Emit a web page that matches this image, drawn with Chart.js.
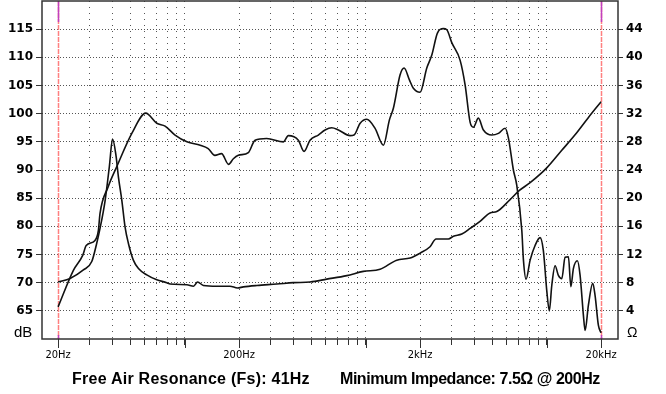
<!DOCTYPE html>
<html>
<head>
<meta charset="utf-8">
<script src="https://cdn.jsdelivr.net/npm/chart.js@4.4.1/dist/chart.umd.min.js"></script>
<style>
  html, body { margin: 0; padding: 0; background: #fff; }
  #wrap { position: relative; width: 666px; height: 394px; }
  .lbl { position: absolute; font-family: "Liberation Sans", Arial, sans-serif; color: #000; line-height: 1; white-space: nowrap; }
  .foot { font-weight: bold; font-size: 16px; top: 371px; }
</style>
</head>
<body>
<div id="wrap">
  <canvas id="chart" width="666" height="394"></canvas>
  <div class="lbl" style="left:14px; top:324px; font-size:15px;">dB</div>
  <div class="lbl" style="left:627px; top:325px; font-size:14px;">Ω</div>
  <div class="lbl foot" style="left:72px; letter-spacing:0.25px;">Free Air Resonance (Fs): 41Hz</div>
  <div class="lbl foot" style="left:340px; letter-spacing:-0.45px;">Minimum Impedance: 7.5Ω @ 200Hz</div>
</div>
<script>
// frequency response (dB, left axis)
const splFreq = [20, 24.3, 27.4, 28.6, 32, 33.4, 34.1, 37.8, 42.2, 51.1,
  61, 70.2, 78, 88.6, 103, 122, 135, 147, 160, 175,
  186, 198, 225, 245, 284, 352, 374, 425, 457, 493,
  548, 597, 650, 708, 821, 863, 933, 1015, 1128, 1254,
  1354, 1425, 1551, 1632, 1746, 1836, 2000, 2178, 2322, 2493,
  2690, 2810, 2993, 3326, 3546, 3778, 3940, 4198, 4476, 4980,
  5418, 5900, 6150, 6554, 6840, 7294, 7448, 7700, 8110, 8636,
  9200, 9596, 10020, 10356, 10680, 11140, 11614, 12132, 12652, 13198,
  13616, 14060, 14792, 15312, 15972, 16320, 17020, 17990, 18530, 19330, 20000];
const splDb = [65.7, 72.2, 74.9, 76.6, 77.5, 79.3, 82.3, 87.0, 90.6, 96.5,
  100.1, 98.3, 97.8, 96.2, 95.0, 94.4, 93.8, 92.6, 92.9, 91.0,
  92.0, 92.6, 93.1, 95.3, 95.6, 95.0, 96.1, 95.3, 93.3, 95.3,
  96.2, 97.1, 97.5, 97.1, 96.1, 96.2, 98.3, 99.0, 97.4, 94.4,
  98.9, 101.0, 106.9, 108.1, 106.0, 104.5, 103.8, 108.1, 110.4, 114.3,
  115.1, 114.9, 112.6, 109.5, 105.1, 98.5, 97.6, 99.2, 97.1, 96.2,
  96.5, 97.4, 95.7, 90.0, 87.3, 79.3, 74.0, 70.6, 74.0, 76.6,
  78.0, 75.7, 68.6, 65.0, 69.5, 73.0, 71.3, 70.7, 74.5, 74.6,
  69.3, 72.5, 73.9, 71.3, 64.2, 61.5, 66.0, 69.9, 67.7, 62.4, 61.1];

// impedance (ohm, right axis)
const impFreq = [20, 23.3, 27.6, 30.7, 32.7, 34.1, 36.4, 38.4, 40, 41.8,
  43.1, 45.0, 46.9, 48.9, 52.1, 55.6, 61.8, 70.2, 79.7, 83.2,
  103, 112, 118, 127, 151, 178, 196, 211, 251, 323,
  399, 493, 610, 787, 972, 1202, 1486, 1762, 2000, 2270,
  2450, 2866, 3056, 3400, 3778, 4288, 4872, 5306, 6284, 7076,
  8110, 10020, 12132, 14360, 16950, 20000];
const impOhm = [8.1, 8.6, 9.8, 11.0, 13.6, 15.7, 19.7, 24.5, 28.4, 26.0,
  23.0, 19.7, 15.9, 13.6, 11.2, 10.0, 9.1, 8.4, 8.0, 7.8,
  7.7, 7.5, 8.1, 7.6, 7.5, 7.5, 7.25, 7.4, 7.6, 7.8,
  8.0, 8.1, 8.5, 9.0, 9.6, 9.9, 11.2, 11.5, 12.2, 13.1,
  14.2, 14.2, 14.6, 14.9, 15.7, 16.7, 17.9, 18.1, 19.8, 21.1,
  22.2, 24.3, 26.8, 29.0, 31.4, 33.7];

// x axis grid / labels
const gridFreqs = [20, 30, 40, 50, 60, 70, 80, 90,
  100, 200, 300, 400, 500, 600, 700, 800, 900,
  1000, 2000, 3000, 4000, 5000, 6000, 7000, 8000, 9000,
  10000, 20000];
const majorFreqs = [20, 100, 200, 1000, 2000, 10000, 20000];
const labelFreqs = [20, 200, 2000, 20000];
const labelText = ["20Hz", "200Hz", "2kHz", "20kHz"];
const markerFreqs = [20, 20000];

const toPoints = (xs, ys) => xs.map((x, i) => ({ x: x, y: ys[i] }));

// red band-limit lines at 20Hz / 20kHz
const markerLines = {
  id: "markerLines",
  beforeDatasetsDraw(chart) {
    const ctx = chart.ctx, area = chart.chartArea, xs = chart.scales.x;
    ctx.save();
    markerFreqs.forEach(f => {
      const px = Math.round(xs.getPixelForValue(f)) + 0.5;
      ctx.strokeStyle = "#ff8080";
      ctx.lineWidth = 1.5;
      ctx.setLineDash([5, 1]);
      ctx.beginPath();
      ctx.moveTo(px, area.top);
      ctx.lineTo(px, area.bottom);
      ctx.stroke();
      ctx.setLineDash([]);
      ctx.strokeStyle = "#c040c0";
      ctx.beginPath();
      ctx.moveTo(px, area.top);
      ctx.lineTo(px, area.top + 21);
      ctx.moveTo(px, area.bottom - 4);
      ctx.lineTo(px, area.bottom);
      ctx.stroke();
    });
    ctx.restore();
  }
};

// box round the plot, longer ticks at the major frequencies
const frame = {
  id: "frame",
  afterDraw(chart) {
    const ctx = chart.ctx, a = chart.chartArea, xs = chart.scales.x;
    ctx.save();
    ctx.strokeStyle = "#333";
    ctx.lineWidth = 1.5;
    ctx.strokeRect(a.left, a.top, a.right - a.left, a.bottom - a.top);
    ctx.lineWidth = 1;
    ctx.beginPath();
    majorFreqs.forEach(f => {
      const px = Math.round(xs.getPixelForValue(f)) + 0.5;
      ctx.moveTo(px, a.bottom);
      ctx.lineTo(px, a.bottom + 9);
    });
    ctx.stroke();
    ctx.restore();
  }
};

const tickFont = { family: "'DejaVu Sans', sans-serif", weight: "bold", size: 12 };
const noPad = s => { s.paddingTop = 0; s.paddingBottom = 0; };

new Chart(document.getElementById("chart"), {
  type: "line",
  data: {
    datasets: [
      {
        label: "SPL",
        data: toPoints(splFreq, splDb),
        borderColor: "#111",
        borderWidth: 1.6,
        pointRadius: 0,
        cubicInterpolationMode: "monotone",
        fill: false,
        yAxisID: "y",
      },
      {
        label: "Impedance",
        data: toPoints(impFreq, impOhm),
        borderColor: "#111",
        borderWidth: 1.6,
        pointRadius: 0,
        cubicInterpolationMode: "monotone",
        fill: false,
        yAxisID: "y1",
      },
    ],
  },
  options: {
    responsive: false,
    devicePixelRatio: 1,
    animation: false,
    layout: { padding: { top: 1, left: 0, right: 0, bottom: 0 } },
    plugins: { legend: { display: false }, tooltip: { enabled: false } },
    scales: {
      x: {
        type: "logarithmic",
        bounds: "data",
        min: 16.3,
        max: 24800,
        afterBuildTicks: s => { s.ticks = gridFreqs.map(v => ({ value: v })); },
        afterFit: s => { s.height = 55; s.paddingLeft = 0; s.paddingRight = 0; },
        ticks: {
          autoSkip: false,
          maxRotation: 0,
          padding: 4,
          color: "#000",
          font: { family: "'Liberation Sans Narrow', 'DejaVu Sans Condensed', 'Liberation Sans', sans-serif", size: 11 },
          callback: v => {
            const i = labelFreqs.indexOf(v);
            return i >= 0 ? labelText[i] : "";
          },
        },
        grid: {
          color: c => (markerFreqs.includes(c.tick.value) ? "transparent" : "#555"),
          lineWidth: 1,
          tickLength: 6,
          tickColor: "#333",
        },
        border: { display: false, dash: [1, 5] },
      },
      y: {
        position: "left",
        min: 60,
        max: 120,
        afterFit: s => { s.width = 42; noPad(s); },
        ticks: {
          stepSize: 5,
          padding: 3,
          color: "#000",
          font: tickFont,
          callback: v => (v === 60 || v === 120 ? "" : v),
        },
        grid: {
          color: c => (c.tick.value === 60 || c.tick.value === 120 ? "transparent" : "#555"),
          lineWidth: 1,
          tickLength: 6,
          tickColor: c => (c.tick.value === 60 || c.tick.value === 120 ? "transparent" : "#333"),
        },
        border: { display: false, dash: [1, 2] },
      },
      y1: {
        position: "right",
        min: 0,
        max: 48,
        afterFit: s => { s.width = 48; noPad(s); },
        ticks: {
          stepSize: 4,
          padding: 3,
          color: "#000",
          font: tickFont,
          callback: v => (v === 0 || v === 48 ? "" : v),
        },
        grid: {
          drawOnChartArea: false,
          tickLength: 5,
          tickColor: c => (c.tick.value === 0 || c.tick.value === 48 ? "transparent" : "#333"),
        },
        border: { display: false },
      },
    },
  },
  plugins: [markerLines, frame],
});
</script>
</body>
</html>
